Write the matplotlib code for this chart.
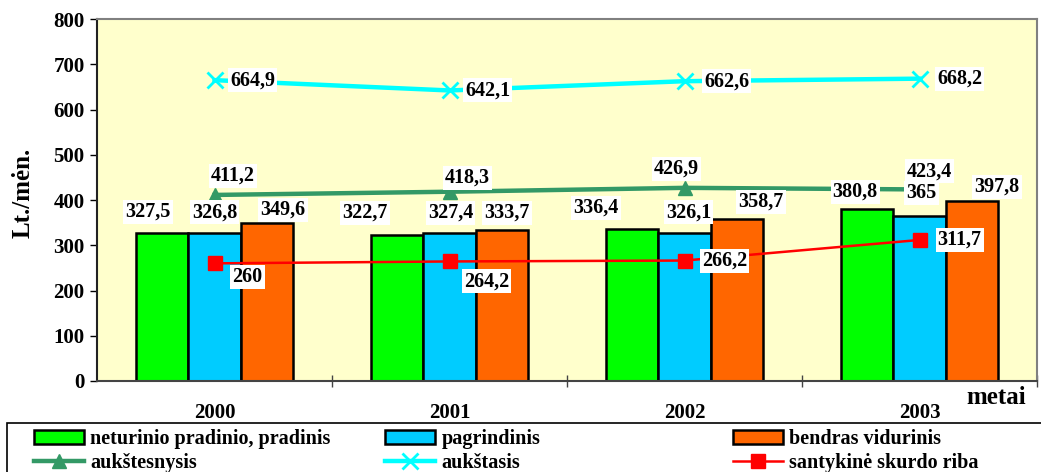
import numpy as np
import matplotlib.pyplot as plt
from matplotlib.patches import Patch, Rectangle
from matplotlib.lines import Line2D

plt.rcParams['font.family'] = ['Liberation Serif', 'DejaVu Serif']
plt.rcParams['font.weight'] = 'bold'

# Duomenys
metai = ['2000', '2001', '2002', '2003']
pradinis = [327.5, 322.7, 336.4, 380.8]
pagrindinis = [326.8, 327.4, 326.1, 365]
vidurinis = [349.6, 333.7, 358.7, 397.8]
aukstesnysis = [411.2, 418.3, 426.9, 423.4]
aukstasis = [664.9, 642.1, 662.6, 668.2]
skurdo_riba = [260, 264.2, 266.2, 311.7]

def fmt(v):
    s = ('%.1f' % v).rstrip('0').rstrip('.')
    return s.replace('.', ',')

fig = plt.figure(figsize=(10.41, 4.72), dpi=100)
ax = fig.add_axes([0.0932, 0.1928, 0.9030, 0.7669])
ax.set_facecolor('#FFFFCC')

x = np.arange(len(metai))
w = 0.223

bars_spec = [
    (pradinis, -w, '#00FF00', 'neturinio pradinio, pradinis'),
    (pagrindinis, 0, '#00CCFF', 'pagrindinis'),
    (vidurinis, w, '#FF6600', 'bendras vidurinis'),
]
# poslinkiai pikseliais (dx, dy) etiketems
bar_off = [
    [(-14, 21), (-32, 22), (-36, 21), (-12, 17)],
    [(0, 21), (1, 20), (4, 21), (2, 23)],
    [(16, 13), (5, 17), (24, 17), (25, 14)],
]
box = dict(facecolor='white', edgecolor='none', pad=1.5)

for (vals, dx, col, lab), offs in zip(bars_spec, bar_off):
    ax.bar(x + dx, vals, width=w, color=col, edgecolor='black', linewidth=1.8, zorder=2)
    for xi, v, o in zip(x + dx, vals, offs):
        ax.annotate(fmt(v), (xi, v), xytext=o, textcoords='offset pixels',
                    ha='center', va='center', fontsize=14.5, fontweight='bold',
                    bbox=box, zorder=6)

ax.plot(x, aukstesnysis, color='#339966', lw=3.2, marker='^', ms=10, zorder=4)
ax.plot(x, aukstasis, color='#00FFFF', lw=3.2, marker='x', ms=11, mew=2, zorder=4)
ax.plot(x, skurdo_riba, color='#FF0000', lw=1.8, marker='s', ms=10, zorder=5)

line_off = [
    (aukstesnysis, [(18, 19), (18, 14), (-8, 19), (10, 18)]),
    (aukstasis, [(38, 0), (38, 0), (42, 0), (40, 0)]),
    (skurdo_riba, [(33, -14), (37, -20), (40, 0), (40, 0)]),
]
for vals, offs in line_off:
    for xi, v, o in zip(x, vals, offs):
        ax.annotate(fmt(v), (xi, v), xytext=o, textcoords='offset pixels',
                    ha='center', va='center', fontsize=14.5, fontweight='bold',
                    bbox=box, zorder=6)

ax.set_xlim(-0.5, 3.5)
ax.set_ylim(0, 800)
ax.set_yticks(range(0, 801, 100))
ax.tick_params(axis='y', labelsize=15, length=5, width=1, direction='out', pad=4)
ax.set_xticks([0.5, 1.5, 2.5, 3.5])
ax.set_xticklabels([])
ax.tick_params(axis='x', which='major', length=8, direction='inout', width=1, color='#444444')
ax.set_xticks(x, minor=True)
ax.set_xticklabels(metai, minor=True, fontsize=15, fontweight='bold')
ax.tick_params(axis='x', which='minor', length=0, pad=16)
for t in ax.get_yticklabels():
    t.set_fontweight('bold')

ax.spines['left'].set_color('#222222')
ax.spines['bottom'].set_color('#444444')
ax.spines['top'].set_color('#808080')
ax.spines['right'].set_color('#808080')
for s in ax.spines.values():
    s.set_linewidth(1.5)

ax.set_ylabel('Lt./mėn.', fontsize=18, fontweight='bold')
ax.yaxis.set_label_coords(-0.066, 0.52)
fig.text(996 / 1041, 1 - 397 / 472, 'metai', ha='center', va='center',
         fontsize=18, fontweight='bold')

# legenda
fig.add_artist(Rectangle((7 / 1041, -0.05), 1.1, 1 - 423 / 472 + 0.05,
                         transform=fig.transFigure, facecolor='white',
                         edgecolor='black', lw=1.2, clip_on=False))

h_pr = Patch(facecolor='#00FF00', edgecolor='black', lw=1.8)
h_pg = Patch(facecolor='#00CCFF', edgecolor='black', lw=1.8)
h_vd = Patch(facecolor='#FF6600', edgecolor='black', lw=1.8)
h_au = Line2D([], [], color='#339966', lw=3.2, marker='^', ms=10)
h_ak = Line2D([], [], color='#00FFFF', lw=3.2, marker='x', ms=11, mew=2)
h_sk = Line2D([], [], color='#FF0000', lw=1.8, marker='s', ms=10)

cols = [
    ([h_pr, h_au], ['neturinio pradinio, pradinis', 'aukštesnysis'], 34),
    ([h_pg, h_ak], ['pagrindinis', 'aukštasis'], 385),
    ([h_vd, h_sk], ['bendras vidurinis', 'santykinė skurdo riba'], 733),
]
for hs, ls, px in cols:
    fig.legend(hs, ls, loc='upper left', bbox_to_anchor=(px / 1041, 1 - 429 / 472),
               frameon=False, borderpad=0, borderaxespad=0, handlelength=2.5,
               handleheight=0.75, handletextpad=0.3, labelspacing=0.22,
               prop={'size': 14.5, 'weight': 'bold'})

fig.savefig('out.png', dpi=100)
